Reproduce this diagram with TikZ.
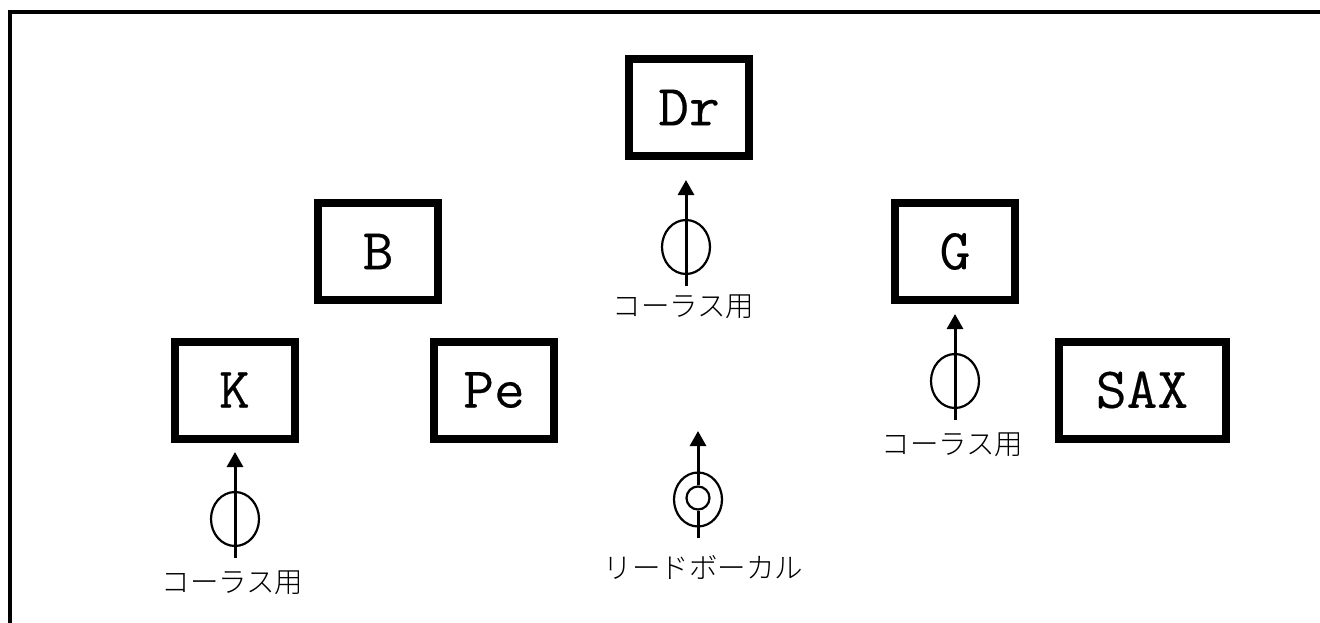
\documentclass[tikz,border=0pt]{standalone}
\usepackage{fontspec}
\newfontfamily\cjk{Noto Sans CJK JP}[UprightFont={* Light}]
\newfontfamily\instfont{Latin Modern Mono}[FakeBold=0.3,FakeStretch=1.03]
\usetikzlibrary{arrows.meta,shapes.geometric}
\tikzset{
    inst/.style={draw,line width=8pt,inner sep=0pt,minimum width=120pt,minimum height=97pt,font=\instfont\fontsize{58}{58}\selectfont},
    micarrow/.style={-{Triangle[length=15pt,width=16pt]},line width=3pt},
    micbody/.style={draw,ellipse,line width=2.2pt,inner sep=0pt,minimum width=48pt,minimum height=54pt},
    miclabel/.style={inner sep=0pt,font=\cjk\fontsize{28.5}{28.5}\selectfont},
}
\begin{document}
\begin{tikzpicture}[x=1pt,y=-1pt]
    \useasboundingbox (0,0) rectangle (1320,623);
    \coordinate (frameb) at (10,623);
    \coordinate (framec) at (10,12);
    \coordinate (framer) at (1320,12);
    \draw[line width=4pt] (frameb) -- (framec) -- (framer);
    \node[inst] (dr) at (689,107.5) {Dr};
    \node[inst] (b) at (378,251.5) {B};
    \node[inst] (g) at (955,251.5) {G};
    \node[inst] (k) at (234.5,390) {K};
    \node[inst] (pe) at (494,390) {Pe};
    \node[inst,minimum width=167pt] (sax) at (1142,390) {SAX};
    % chorus mics
    \foreach \mic/\px/\py/\ly in {drmic/686/247/307, gmic/955/381/445, kmic/235/519/583} {
        \node[micbody] (\mic) at (\px,\py) {};
        \coordinate (\mic foot) at (\px,\py+39);
        \coordinate (\mic head) at (\px,\py-67);
        \draw[micarrow] (\mic foot) -- (\mic head);
        \node[miclabel] (\mic label) at (\px-2.5,\ly) {コーラス用};
    }
    % lead vocal
    \node[micbody] (vomic) at (698,499.5) {};
    \node[draw,circle,line width=2.2pt,minimum size=23pt,inner sep=0pt] (vocore) at (698,498) {};
    \coordinate (vofoot) at (698,538);
    \coordinate (vohead) at (698,431);
    \draw[micarrow] (vocore.north) -- (vohead);
    \draw[line width=3pt] (vofoot) -- (vocore.south);
    \node[miclabel] (volabel) at (703.5,567) {リードボーカル};
\end{tikzpicture}
\end{document}
